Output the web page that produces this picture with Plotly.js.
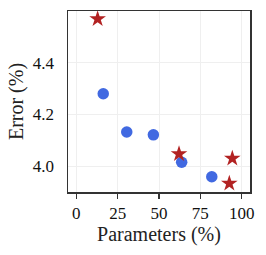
<!DOCTYPE html>
<html><head><meta charset="utf-8">
<script src="https://cdn.plot.ly/plotly-3.0.1.min.js"></script>
<style>body{margin:0;padding:0;background:#fff}#c{width:266px;height:255px}</style>
</head><body><div id="c"></div>
<script>
const circleParams = [16.3, 30.5, 46.6, 63.7, 81.9];
const circleError = [4.28, 4.132, 4.121, 4.015, 3.959];
const starParams = [12.9, 62.1, 94.3, 92.5];
const starError = [4.569, 4.047, 4.030, 3.933];
const xTicks = [0, 25, 50, 75, 100];
const yTicks = [4.0, 4.2, 4.4];

const fam = 'Liberation Serif';
const traces = [
  {x: circleParams, y: circleError, type: 'scatter', mode: 'markers',
   marker: {symbol: 'circle', size: 11.5, color: '#4169E1'}, showlegend: false},
  {x: starParams, y: starError, type: 'scatter', mode: 'markers',
   marker: {symbol: 'star', size: 12.5, color: '#B22222'}, showlegend: false}
];
const axisCommon = {showline: true, mirror: true, linecolor: '#333', linewidth: 1.5,
  gridcolor: '#efefef', zeroline: false,
  tickfont: {family: fam, size: 17, color: '#111'}};
const layout = {
  width: 266, height: 255,
  margin: {l: 68, r: 16, t: 11, b: 63},
  paper_bgcolor: '#fff', plot_bgcolor: '#fff',
  font: {family: fam, color: '#111'},
  xaxis: Object.assign({}, axisCommon, {range: [-5, 105], tickvals: xTicks,
    ticks: 'outside', ticklen: 5, tickwidth: 1.5, tickcolor: '#333',
    title: {text: 'Parameters (%)', font: {family: fam, size: 20, color: '#222'}, standoff: 1}}),
  yaxis: Object.assign({}, axisCommon, {range: [3.9, 4.6], tickvals: yTicks, ticktext: yTicks.map(v => v.toFixed(1)),
    ticks: '', ticklabelstandoff: 9,
    title: {text: 'Error (%)', font: {family: fam, size: 20, color: '#222'}, standoff: 4}})
};
Plotly.newPlot('c', traces, layout, {displayModeBar: false, staticPlot: true});
</script></body></html>
